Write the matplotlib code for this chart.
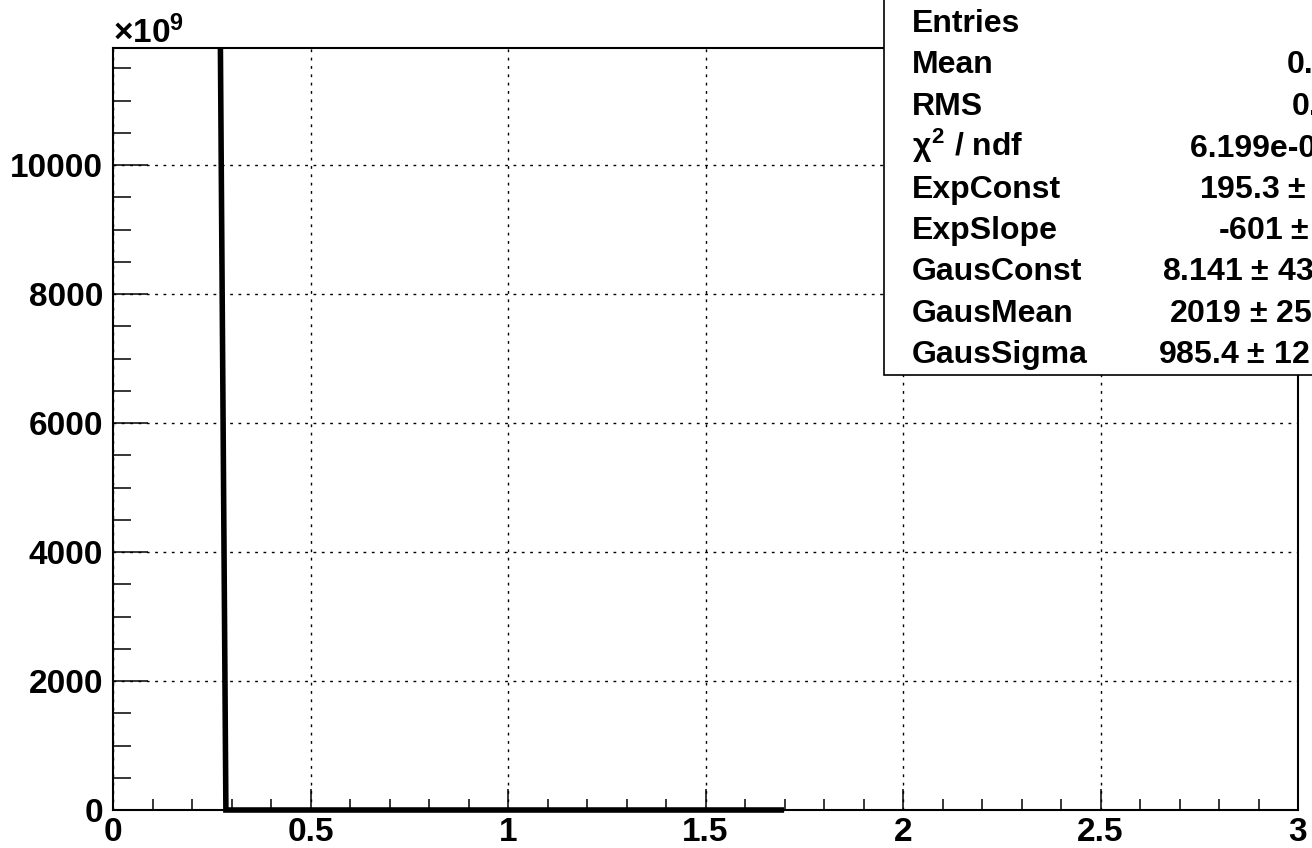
import matplotlib
matplotlib.use('Agg')
import matplotlib.pyplot as plt
from matplotlib.patches import Rectangle
from matplotlib.ticker import MultipleLocator

plt.rcParams['font.family'] = ['Liberation Sans', 'DejaVu Sans']
plt.rcParams['font.weight'] = 'bold'
plt.rcParams['mathtext.fontset'] = 'custom'
plt.rcParams['mathtext.rm'] = 'Liberation Sans'
plt.rcParams['mathtext.it'] = 'Liberation Sans'
plt.rcParams['mathtext.bf'] = 'Liberation Sans:bold'

# curve (units of 1e9 on y)
curve_x = [0.2717, 0.2858, 1.692]
curve_y = [12000, 0, 0]

x_ticks = [0, 0.5, 1, 1.5, 2, 2.5, 3]
x_ticklabels = ['0', '0.5', '1', '1.5', '2', '2.5', '3']
y_ticks = [0, 2000, 4000, 6000, 8000, 10000]
y_ticklabels = ['0', '2000', '4000', '6000', '8000', '10000']

stat_names = ['Entries', 'Mean', 'RMS', r'$\chi^{\mathbf{2}}$ / ndf', 'ExpConst',
              'ExpSlope', 'GausConst', 'GausMean', 'GausSigma']
stat_values = ['2000', '0.2853', '0.0102', '6.199e-07 / 97', '195.3 $\\pm$ 3.3',
               '-601 $\\pm$ 11.2', '8.141 $\\pm$ 43.27', '2019 $\\pm$ 25.1', '985.4 $\\pm$ 12.6']
# where each value string starts (pixels from left)
stat_value_x = [1330, 1287, 1292, 1190, 1199, 1218, 1162, 1169, 1158]

W, H = 1312, 848
fig = plt.figure(figsize=(W / 100, H / 100), dpi=100)
ax = fig.add_axes([113 / W, 1 - 810 / H, (1298 - 113) / W, (810 - 48) / H])

clip = Rectangle((0, -0.02), 1, 1.02, transform=ax.transAxes, visible=False)
ax.add_patch(clip)
ln, = ax.plot(curve_x, curve_y, color='black', lw=4, solid_joinstyle='miter', zorder=3)
ln.set_clip_path(clip)

ax.set_xlim(0, 3)
ax.set_ylim(0, 11814)
ax.set_xticks(x_ticks)
ax.set_xticklabels(x_ticklabels)
ax.set_yticks(y_ticks)
ax.set_yticklabels(y_ticklabels)
ax.xaxis.set_minor_locator(MultipleLocator(0.1))
ax.yaxis.set_minor_locator(MultipleLocator(500))

ax.tick_params(axis='both', which='both', direction='in', top=False, right=False,
               labelsize=24, width=1.1)
ax.tick_params(axis='x', which='major', length=15, pad=5)
ax.tick_params(axis='x', which='minor', length=8)
ax.tick_params(axis='y', which='major', length=25, pad=7)
ax.tick_params(axis='y', which='minor', length=13)
for s in ax.spines.values():
    s.set_linewidth(1.5)

ax.grid(True, which='major', color='black', lw=1, ls=(0, (2, 4)))
ax.set_axisbelow(True)

fig.text(113 / W, 1 - 43 / H, r'$\times\mathbf{10^{9}}$', fontsize=24, va='baseline', ha='left')

# stats box
box = Rectangle((884 / W, 1 - 375 / H), 1.0, 1.0, transform=fig.transFigure,
                facecolor='white', edgecolor='black', lw=1.2, zorder=5)
fig.patches.append(box)

row0 = 32
dy = 41.4
for i, (name, val, vx) in enumerate(zip(stat_names, stat_values, stat_value_x)):
    yb = 1 - (row0 + i * dy) / H
    fig.text(912 / W, yb, name, fontsize=23, va='baseline', ha='left', zorder=6)
    fig.text(vx / W, yb, val, fontsize=23, va='baseline', ha='left', zorder=6)

fig.savefig('out.png', dpi=100)
